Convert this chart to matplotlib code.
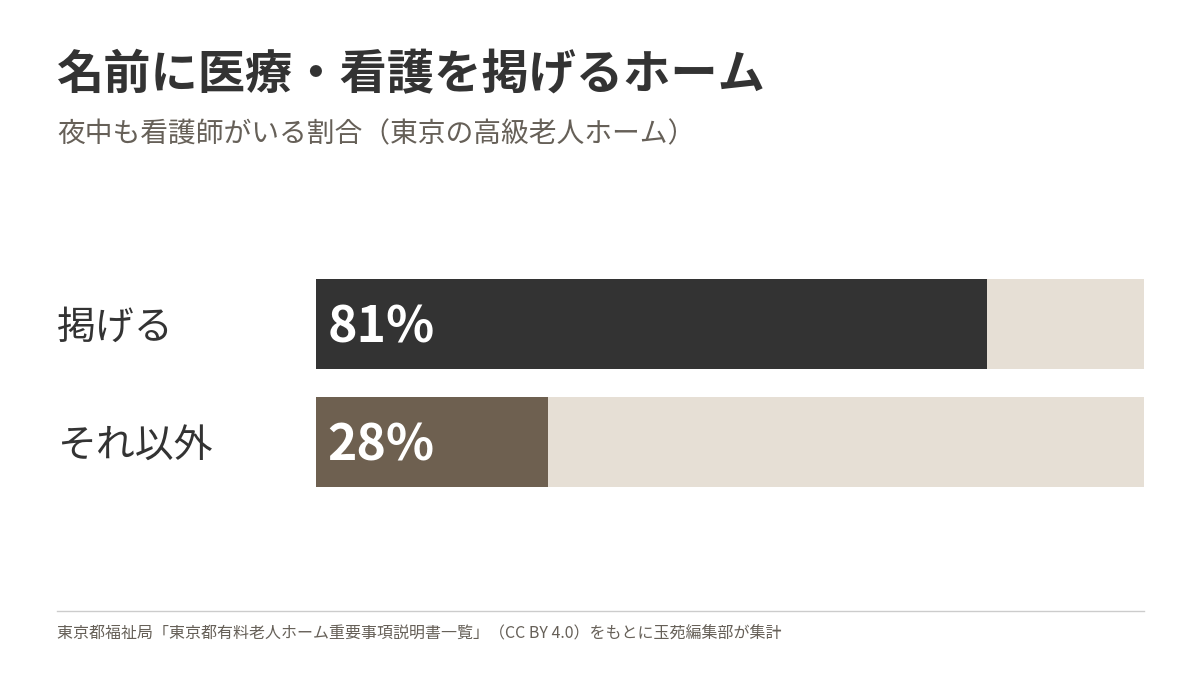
import matplotlib
matplotlib.use("Agg")
import matplotlib.pyplot as plt

plt.rcParams['font.family'] = ['Noto Sans CJK JP', 'DejaVu Sans']

categories = ["掲げる", "それ以外"]
values = [81, 28]
bar_colors = ["#333333", "#6e6050"]
track_color = "#e6dfd5"

fig = plt.figure(figsize=(12, 6.75), dpi=100)
fig.patch.set_facecolor("white")

fig.text(57/1200, 1-75/675, "名前に医療・看護を掲げるホーム", fontsize=34, fontweight="bold",
         color="#333333", va="center", ha="left")
fig.text(57/1200, 1-134/675, "夜中も看護師がいる割合（東京の高級老人ホーム）", fontsize=20,
         color="#666058", va="center", ha="left")

ax = fig.add_axes([316/1200, 1-487/675, 828/1200, 208/675])
h = 90/118
ax.barh(range(len(values)), [100]*len(values), height=h, color=track_color, left=0)
ax.barh(range(len(values)), values, height=h, color=bar_colors)
ax.set_xlim(0, 100)
ax.set_ylim(1 + h/2, -h/2)
ax.axis("off")
for i, (c, v) in enumerate(zip(categories, values)):
    ax.text(1.4, i + 0.03, f"{v}%", color="white", fontsize=36, fontweight="bold",
            va="center", ha="left")
    fig.text(57/1200, 1-(328+118*i)/675, c, fontsize=28, color="#333333",
             va="center", ha="left")

fig.add_artist(plt.Line2D([57/1200, 1144/1200], [1-611/675]*2, color="#cccccc", lw=1))
fig.text(57/1200, 1-634/675,
         "東京都福祉局「東京都有料老人ホーム重要事項説明書一覧」（CC BY 4.0）をもとに玉苑編集部が集計",
         fontsize=11.5, color="#666058", va="center", ha="left")

fig.savefig("out.png", dpi=100, facecolor="white")
